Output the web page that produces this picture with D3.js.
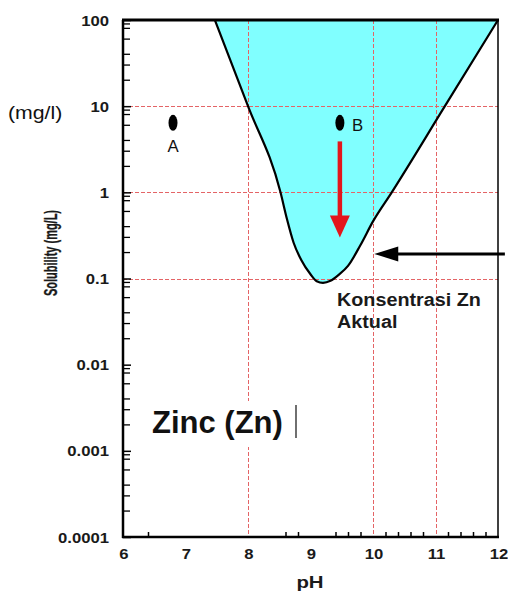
<!DOCTYPE html>
<html><head><meta charset="utf-8">
<script src="https://cdn.jsdelivr.net/npm/d3@7"></script>
<style>body{margin:0;background:#fff}svg{display:block}text{font-family:"Liberation Sans",Arial,sans-serif}</style>
</head><body>
<script>
// ---- data ----
const phTicks = [6, 7, 8, 9, 10, 11, 12];
const phLabels = ["6", "7", "8", "9", "10", "11", "12"];
const phMinor = [6.4, 8.6, 8.8, 9.4, 9.6, 9.8, 10.2, 10.4, 10.6, 10.8, 11.2, 11.4, 11.6, 11.8];
const solTicks = [100, 10, 1, 0.1, 0.01, 0.001, 0.0001];
const solLabels = ["100", "10", "1", "0.1", "0.01", "0.001", "0.0001"];
const solMinorFactors = [2, 3, 4, 6, 8, 9];
const gridPH = [8, 10, 11];
const gridSol = [10, 1, 0.1];
const curvePH  = [7.47, 8.0, 8.52, 8.62, 8.73, 8.85, 9.0, 9.1, 9.2, 9.32, 9.45, 9.6, 9.8, 10.0, 10.3, 11.15, 12.0];
const curveSol = [100, 10, 1.0, 0.5, 0.26, 0.165, 0.112, 0.093, 0.089, 0.094, 0.11, 0.14, 0.245, 0.46, 1.0, 10, 100];
const sampleNames = ["A", "B"];
const samplePH = [6.8, 9.47];
const sampleSol = [6.4, 6.4];
const redArrowPH = 9.47, redArrowFrom = 3.9, redArrowTo = 0.3;
const blackArrowSol = 0.193, blackArrowFrom = 12.11, blackArrowTo = 10.02;

const W = 508, H = 592;
const svg = d3.select("body").append("svg").attr("width", W).attr("height", H);
const x = d3.scaleLinear().domain([6, 12]).range([123, 498]);
const y = d3.scaleLog().domain([0.0001, 100]).range([537, 20]);
const crisp = v => Math.round(v) + 0.5;

// stretched text helper
function stext(px, py, str, size, sx, anchor, weight, fill) {
  return svg.append("text")
    .attr("transform", `translate(${px},${py}) scale(${sx},1)`)
    .attr("text-anchor", anchor || "start")
    .attr("font-size", size).attr("font-weight", weight || "bold")
    .attr("fill", fill || "#1a1a1a").text(str);
}

// cyan region
const pts = curvePH.map((p, i) => [p, curveSol[i]]);
const line = d3.line().x(d => x(d[0])).y(d => y(d[1])).curve(d3.curveMonotoneX);
svg.append("path").attr("d", line(pts) + "Z").attr("fill", "#80ffff");

// grid
const gridColor = "#e46466";
svg.selectAll(".gv").data(gridPH).enter().append("line")
  .attr("x1", d => crisp(x(d))).attr("x2", d => crisp(x(d))).attr("y1", y(100)).attr("y2", y(0.0001))
  .attr("stroke", gridColor).attr("stroke-width", 1).attr("stroke-dasharray", "4,2");
svg.selectAll(".gh").data(gridSol).enter().append("line")
  .attr("x1", x(6)).attr("x2", x(12)).attr("y1", d => crisp(y(d))).attr("y2", d => crisp(y(d)))
  .attr("stroke", gridColor).attr("stroke-width", 1).attr("stroke-dasharray", "4,2");

// curve
svg.append("path").attr("d", line(pts)).attr("fill", "none").attr("stroke", "#000").attr("stroke-width", 2.2);

// axes
const yAxis = d3.axisRight(y).tickValues(solTicks).tickFormat("").tickSize(8).tickSizeOuter(0);
const gy = svg.append("g").attr("transform", `translate(${x(6)},0)`).call(yAxis);
gy.select(".domain").remove();
gy.selectAll("line").attr("stroke-width", 1.5);
const minorSol = [];
solTicks.slice(1).forEach(t => solMinorFactors.forEach(f => minorSol.push(t * f)));
svg.selectAll(".ym").data(minorSol).enter().append("line")
  .attr("x1", x(6)).attr("x2", x(6) + 7).attr("y1", d => y(d)).attr("y2", d => y(d))
  .attr("stroke", "#000").attr("stroke-width", 1.3);
solTicks.forEach((d, i) => stext(109, y(d) + 5.5, solLabels[i], 14.5, 1.15, "end"));

const xAxis = d3.axisTop(x).tickValues(phMinor).tickFormat("").tickSize(5).tickSizeOuter(0);
const gx = svg.append("g").attr("transform", `translate(0,${y(0.0001)})`).call(xAxis);
gx.select(".domain").remove();
gx.selectAll("line").attr("stroke-width", 1.5);
phTicks.forEach((d, i) => stext(x(d) + 1, 559, phLabels[i], 14.5, 1.15, "middle"));

// frame
svg.append("line").attr("x1", x(12)).attr("x2", x(12)).attr("y1", y(100)).attr("y2", y(0.0001)).attr("stroke", "#000").attr("stroke-width", 1.5);
svg.append("line").attr("x1", x(6) - 1).attr("x2", x(12) + 1).attr("y1", y(100)).attr("y2", y(100)).attr("stroke", "#000").attr("stroke-width", 3);
svg.append("line").attr("x1", x(6)).attr("x2", x(6)).attr("y1", y(100)).attr("y2", y(0.0001) + 1).attr("stroke", "#000").attr("stroke-width", 2.5);
svg.append("line").attr("x1", x(6) - 1).attr("x2", x(12) + 1).attr("y1", y(0.0001)).attr("y2", y(0.0001)).attr("stroke", "#000").attr("stroke-width", 2.5);

// axis titles
svg.append("text").attr("transform", "translate(57,253) rotate(-90) scale(1,1.6)").attr("text-anchor", "middle")
  .attr("font-size", 11).attr("font-weight", "bold").attr("fill", "#1a1a1a").attr("stroke", "#1a1a1a").attr("stroke-width", 0.2)
  .text("Solubility (mg/L)");
stext(310, 588, "pH", 17, 1.2, "middle");
stext(8, 119, "(mg/l)", 19, 1.12, "start", "normal", "#111");

// samples
svg.selectAll(".pt").data(sampleNames).enter().append("ellipse")
  .attr("cx", (d, i) => x(samplePH[i])).attr("cy", (d, i) => y(sampleSol[i]))
  .attr("rx", 4.5).attr("ry", 8).attr("fill", "#000");
stext(x(samplePH[0]), 152, sampleNames[0], 16, 1.05, "middle", "normal", "#111");
stext(x(samplePH[1]) + 12, 131, sampleNames[1], 16, 1.05, "start", "normal", "#111");

// red arrow
const rx = x(redArrowPH), ry0 = y(redArrowFrom), ry1 = y(redArrowTo);
svg.append("line").attr("x1", rx).attr("x2", rx).attr("y1", ry0).attr("y2", ry1 - 20)
  .attr("stroke", "#e3161c").attr("stroke-width", 4.5);
svg.append("path").attr("d", `M${rx - 10},${ry1 - 22}L${rx + 10},${ry1 - 22}L${rx},${ry1}Z`).attr("fill", "#e3161c");

// black arrow
const by = y(blackArrowSol), bx0 = x(blackArrowFrom), bx1 = x(blackArrowTo);
svg.append("line").attr("x1", bx0).attr("x2", bx1 + 22).attr("y1", by).attr("y2", by)
  .attr("stroke", "#000").attr("stroke-width", 3);
svg.append("path").attr("d", `M${bx1 + 24},${by - 7.5}L${bx1 + 24},${by + 7.5}L${bx1},${by}Z`).attr("fill", "#000");

// annotation
stext(337, 306, "Konsentrasi Zn", 17.5, 1.13, "start");
stext(337, 328, "Aktual", 17.5, 1.13, "start");

// Zinc label with white box
svg.append("rect").attr("x", 148).attr("y", 401).attr("width", 152).attr("height", 46).attr("fill", "#fff");
svg.append("text").attr("x", 152).attr("y", 433).attr("font-size", 31).attr("font-weight", "bold")
  .attr("fill", "#111").text("Zinc (Zn)");
svg.append("line").attr("x1", 296).attr("x2", 296).attr("y1", 405).attr("y2", 438).attr("stroke", "#222").attr("stroke-width", 1.3);
</script>
</body></html>
